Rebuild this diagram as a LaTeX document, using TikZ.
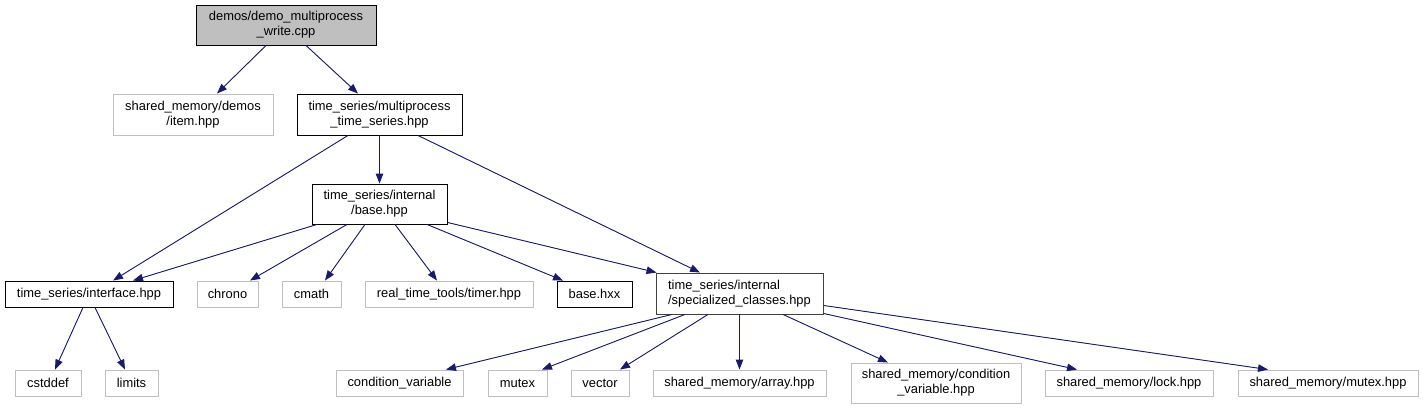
\documentclass[tikz,border=0pt]{standalone}
\usepackage{fontspec}
\setmainfont{Liberation Sans}
\usetikzlibrary{arrows.meta}
\definecolor{edgeblue}{HTML}{191970}
\definecolor{lightgr}{HTML}{BFBFBF}
\definecolor{darkgr}{HTML}{404040}
\tikzset{
  box/.style={draw=black, line width=0.9pt, rectangle, inner sep=0pt, align=center,
    font=\fontsize{12.9}{15}\selectfont},
  extbox/.style={box, draw=lightgr},
  rootbox/.style={box, fill=lightgr},
  dep/.style={draw=edgeblue, line width=0.9pt, -{Triangle[length=10pt,width=7.5pt]}, fill=edgeblue},
}
\begin{document}
\begin{tikzpicture}[x=1pt,y=-1pt]
\useasboundingbox (0,0) rectangle (1423,409);
% row 0
\node[rootbox, minimum width=180pt, minimum height=40pt] (root) at (286,25) {demos/demo\_multiprocess\\\_write.cpp};
% row 1
\node[extbox, minimum width=160pt, minimum height=41pt] (item) at (193,114.5) {shared\_memory/demos\\/item.hpp};
\node[box, minimum width=165pt, minimum height=41pt] (mts) at (379.5,114.5) {time\_series/multiprocess\\\_time\_series.hpp};
% row 2
\node[box, minimum width=135pt, minimum height=40pt] (base) at (379.5,204) {time\_series/internal\\/base.hpp};
% row 3
\node[box, minimum width=168pt, minimum height=26pt] (iface) at (89,294) {time\_series/interface.hpp};
\node[extbox, minimum width=61pt, minimum height=26pt] (chrono) at (227.5,294) {chrono};
\node[extbox, minimum width=59pt, minimum height=26pt] (cmath) at (311.5,294) {cmath};
\node[extbox, minimum width=168pt, minimum height=26pt] (timer) at (449,294) {real\_time\_tools/timer.hpp};
\node[box, minimum width=75pt, minimum height=26pt] (hxx) at (594.5,294) {base.hxx};
\node[box, draw=darkgr, minimum width=167pt, minimum height=41pt, align=left] (spec) at (739.5,293.5) {time\_series/internal\\/specialized\_classes.hpp};
% row 4
\node[extbox, minimum width=66pt, minimum height=26pt] (cstddef) at (48,383) {cstddef};
\node[extbox, minimum width=53pt, minimum height=26pt] (limits) at (131.5,383) {limits};
\node[extbox, minimum width=127pt, minimum height=26pt] (condvar) at (399.5,383) {condition\_variable};
\node[extbox, minimum width=59pt, minimum height=26pt] (mutex) at (517.5,383) {mutex};
\node[extbox, minimum width=58pt, minimum height=26pt] (vector) at (600,383) {vector};
\node[extbox, minimum width=173pt, minimum height=26pt] (array) at (739.5,383) {shared\_memory/array.hpp};
\node[extbox, minimum width=170pt, minimum height=40pt] (scv) at (936,383) {shared\_memory/condition\\\_variable.hpp};
\node[extbox, minimum width=168pt, minimum height=26pt] (lock) at (1129,383) {shared\_memory/lock.hpp};
\node[extbox, minimum width=180pt, minimum height=26pt] (smutex) at (1328,383) {shared\_memory/mutex.hpp};
% edges
\draw[dep] ([xshift=-20pt]root.south) -- ([xshift=24pt]item.north);
\draw[dep] ([xshift=20pt]root.south) -- ([xshift=-21.5pt]mts.north);
\draw[dep] (mts.south) -- (base.north);
\draw[dep] ([xshift=-31.5pt]mts.south) -- ([xshift=24pt]iface.north);
\draw[dep] ([xshift=38.5pt]mts.south) -- ([xshift=-39.5pt]spec.north);
\draw[dep] ([xshift=-62.5pt]base.south) -- ([xshift=44pt]iface.north);
\draw[dep] ([xshift=-32.5pt]base.south) -- ([xshift=22.5pt]chrono.north);
\draw[dep] ([xshift=-14.5pt]base.south) -- ([xshift=13.5pt]cmath.north);
\draw[dep] ([xshift=15.5pt]base.south) -- ([xshift=-12pt]timer.north);
\draw[dep] ([xshift=47.5pt]base.south) -- ([xshift=-31.5pt]hxx.north);
\draw[dep] ([yshift=2pt]base.south east) -- ([xshift=1pt]spec.north west);
\draw[dep] ([xshift=-6pt]iface.south) -- ([xshift=7pt]cstddef.north);
\draw[dep] ([xshift=6pt]iface.south) -- ([xshift=-6.5pt]limits.north);
\draw[dep] ([xshift=-67.5pt]spec.south) -- ([xshift=46.5pt]condvar.north);
\draw[dep] ([xshift=-54.5pt]spec.south) -- ([xshift=24.5pt]mutex.north);
\draw[dep] ([xshift=-31.5pt]spec.south) -- ([xshift=20pt]vector.north);
\draw[dep] (spec.south) -- (array.north);
\draw[dep] ([xshift=43.5pt]spec.south) -- ([xshift=-48pt]scv.north);
\draw[dep] ([yshift=1pt]spec.south east) -- ([xshift=-52pt]lock.north);
\draw[dep] ([yshift=9pt]spec.south east) -- ([xshift=-60pt]smutex.north);
\end{tikzpicture}
\end{document}
